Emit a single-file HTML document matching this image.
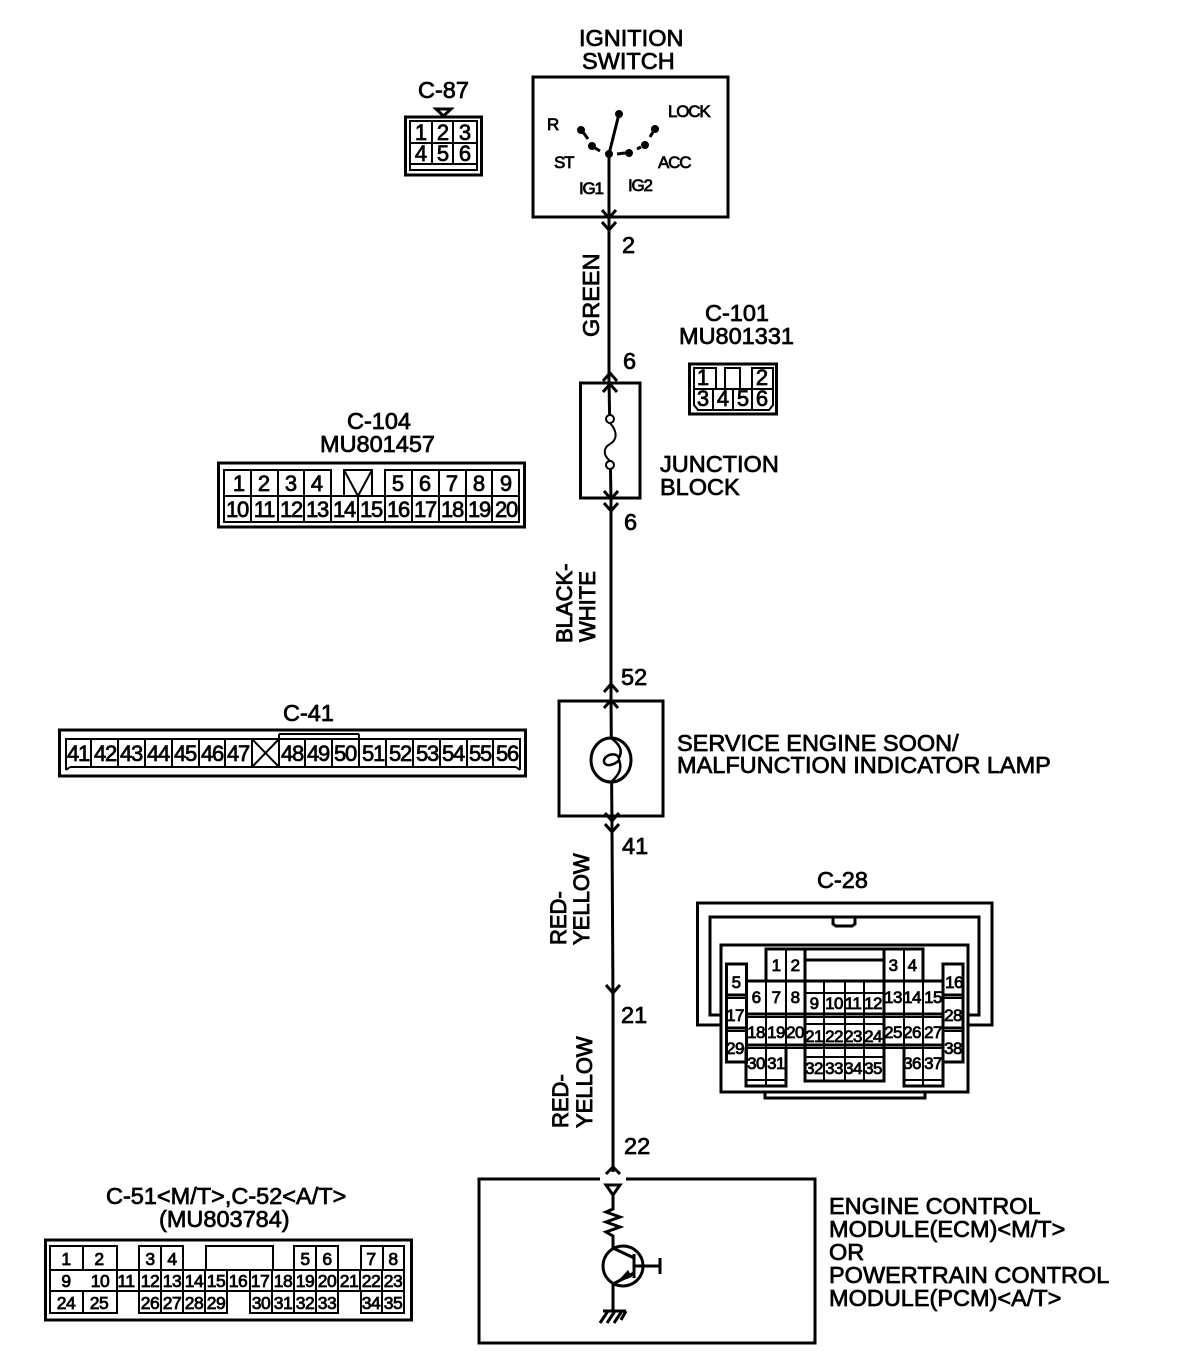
<!DOCTYPE html>
<html><head><meta charset="utf-8"><style>
html,body{margin:0;padding:0;background:#fff}
svg{display:block}
text{font-family:"Liberation Sans",sans-serif;fill:#000;stroke:#000;stroke-width:.75}
.l{font-size:23.5px}
.m{font-size:22px;text-anchor:middle}
.n{font-size:22px;text-anchor:middle;letter-spacing:-1.2px}
.s{font-size:17px;text-anchor:middle;stroke-width:.8;letter-spacing:-.6px}
.u{font-size:17.5px;text-anchor:middle;stroke-width:.8;letter-spacing:-.5px}
.k{font-size:17px;letter-spacing:-1.2px}
.w{font-size:23.5px}
.r{font-size:22px;stroke-width:.9}
g.b *{fill:none;stroke:#000;stroke-width:3}
g.t *{fill:none;stroke:#000;stroke-width:2}
g.f *{fill:#000;stroke:#000}
</style></head><body>
<svg width="1200" height="1370" viewBox="0 0 1200 1370" xmlns="http://www.w3.org/2000/svg">
<rect width="1200" height="1370" fill="#fff"/>

<!-- boxes -->
<g class="b">
<rect x="533" y="77" width="195" height="140"/>
<rect x="580.5" y="383" width="59.500" height="115"/>
<rect x="559" y="701" width="104" height="115"/>
<rect x="479" y="1179" width="336" height="164"/>
<polyline points="609,154 609,380 611,500 611,700 612,830 613,1000 613,1172"/>
<polyline points="602,210 609,218 616,210"/><polyline points="602,222 609,230 616,222"/>
<polyline points="603,381 610,373 617,381"/><polyline points="603,392 610,384 617,392"/>
<polyline points="604,491 611,499 618,491"/><polyline points="604,503 611,511 618,503"/>
<polyline points="604,692 611,684 618,692"/><polyline points="604,708 611,700 618,708"/>
<polyline points="605,813 612,821 619,813"/><polyline points="605,824 612,832 619,824"/>
<polyline points="606,985 613,993 620,985"/>
<polyline points="606,1174 613,1167 620,1174"/>
</g>
<rect x="600" y="1176" width="26" height="6" fill="#fff"/>

<!-- ignition contacts -->
<g class="f">
<circle cx="619" cy="114" r="3.500"/><circle cx="581" cy="130" r="3.500"/><circle cx="592" cy="146" r="3.500"/>
<circle cx="609" cy="154" r="3.500"/><circle cx="629" cy="153" r="3.500"/><circle cx="645" cy="145" r="3.500"/><circle cx="655" cy="129" r="3.500"/>
</g>
<g class="b">
<line x1="609" y1="154" x2="619" y2="114"/>
<line x1="583" y1="132" x2="588" y2="139" stroke-width="2"/>
<line x1="595" y1="148" x2="600" y2="151" stroke-width="2"/>
<line x1="617" y1="154" x2="625" y2="153" stroke-width="2"/>
<line x1="637" y1="149" x2="641" y2="147" stroke-width="2"/>
<line x1="650" y1="137" x2="653" y2="132" stroke-width="2"/>
</g>
<text class="k" x="547" y="130">R</text>
<text class="k" x="668" y="117">LOCK</text>
<text class="k" x="554" y="168">ST</text>
<text class="k" x="658" y="168">ACC</text>
<text class="k" x="579" y="194">IG1</text>
<text class="k" x="628" y="191">IG2</text>

<!-- fuse -->
<circle cx="610" cy="419" r="4" fill="#fff" stroke="#000" stroke-width="2"/>
<circle cx="610" cy="465" r="4" fill="#fff" stroke="#000" stroke-width="2"/>
<rect x="607" y="424" width="7" height="36" fill="#fff"/>
<path d="M610 423C618 432 617 440 610 444C603 448 603 455 610 461" fill="none" stroke="#000" stroke-width="2"/>

<!-- lamp -->
<ellipse cx="611" cy="760" rx="20" ry="22" fill="#fff" stroke="#000" stroke-width="3"/>
<path d="M611 738C622 746 622 752 619 758C616 751 603 755 604 762C606 768 616 764 619 760C622 768 620 774 611 782" fill="none" stroke="#000" stroke-width="2.500"/>

<!-- ECM internals -->
<g class="b">
<polygon points="606,1185 620,1185 613,1195"/>
<polyline points="613,1195 613,1209 606,1212 620,1217 606,1222 620,1227 606,1232 613,1236 613,1248"/>
<circle cx="623" cy="1266" r="20"/>
<polyline points="613,1248 634,1258"/>
<line x1="634" y1="1254" x2="634" y2="1278" stroke-width="4"/>
<line x1="634" y1="1266" x2="660" y2="1266"/>
<line x1="660" y1="1258" x2="660" y2="1274"/>
<line x1="634" y1="1273" x2="613" y2="1284"/>
<polyline points="613,1284 613,1311"/>
<line x1="603" y1="1311" x2="626" y2="1311"/>
<line x1="608" y1="1311" x2="600" y2="1323"/><line x1="615" y1="1311" x2="607" y2="1323"/><line x1="622" y1="1311" x2="614" y2="1323"/><line x1="626" y1="1311" x2="621" y2="1320"/>
</g>
<polygon points="616,1283 628,1270 632,1277" fill="#000"/>

<!-- main labels -->
<text class="l" x="579" y="46">IGNITION</text>
<text class="l" x="582" y="69">SWITCH</text>
<text class="w" x="418" y="98">C-87</text>
<text class="w" x="622" y="253">2</text>
<text class="w" x="623" y="369">6</text>
<text class="w" x="624" y="530">6</text>
<text class="w" x="621" y="685">52</text>
<text class="w" x="622" y="854">41</text>
<text class="w" x="621" y="1023">21</text>
<text class="w" x="624" y="1154">22</text>
<text class="w" transform="translate(599,337) rotate(-90)">GREEN</text>
<text class="r" transform="translate(572,643) rotate(-90)">BLACK-</text>
<text class="r" transform="translate(595,642) rotate(-90)">WHITE</text>
<text class="r" transform="translate(566,945) rotate(-90)">RED-</text>
<text class="r" transform="translate(589,945) rotate(-90)">YELLOW</text>
<text class="r" transform="translate(568,1128) rotate(-90)">RED-</text>
<text class="r" transform="translate(592,1128) rotate(-90)">YELLOW</text>
<text class="w" x="705" y="321">C-101</text>
<text class="w" x="679" y="344">MU801331</text>
<text class="w" x="347" y="429">C-104</text>
<text class="w" x="320" y="452">MU801457</text>
<text class="l" x="660" y="472">JUNCTION</text>
<text class="l" x="660" y="495">BLOCK</text>
<text class="w" x="283" y="721">C-41</text>
<text class="w" x="677" y="751">SERVICE ENGINE SOON/</text>
<text class="w" x="677" y="773">MALFUNCTION INDICATOR LAMP</text>
<text class="w" x="817" y="888">C-28</text>
<text class="w" x="106" y="1204">C-51&lt;M/T&gt;,C-52&lt;A/T&gt;</text>
<text class="w" x="159" y="1227">(MU803784)</text>
<text class="w" x="829" y="1214">ENGINE CONTROL</text>
<text class="w" x="829" y="1237">MODULE(ECM)&lt;M/T&gt;</text>
<text class="w" x="829" y="1260">OR</text>
<text class="w" x="829" y="1283">POWERTRAIN CONTROL</text>
<text class="w" x="829" y="1306">MODULE(PCM)&lt;A/T&gt;</text>

<!-- C-87 -->
<g class="b"><rect x="405.500" y="117" width="76" height="58"/><polygon points="436,109 451,109 443.500,116" stroke-width="2"/></g>
<g class="t">
<rect x="410" y="121" width="67" height="49"/>
<line x1="410" y1="143" x2="477" y2="143"/><line x1="410" y1="164" x2="477" y2="164"/>
<line x1="432" y1="121" x2="432" y2="164"/><line x1="453" y1="121" x2="453" y2="164"/>
</g>
<text class="m" x="421" y="140">1</text><text class="m" x="443" y="140">2</text><text class="m" x="465" y="140">3</text>
<text class="m" x="421" y="161">4</text><text class="m" x="443" y="161">5</text><text class="m" x="465" y="161">6</text>

<!-- C-101 -->
<g class="b"><rect x="689.500" y="364" width="87" height="50"/></g>
<g class="t">
<polyline points="694,389 694,368 716,368 716,389"/>
<polyline points="725,389 725,368 740,368 740,389"/>
<polyline points="752,389 752,368 773,368 773,389"/>
<polyline points="694,389 773,389 773,405 769,410 698,410 694,405 694,389"/>
<line x1="713" y1="389" x2="713" y2="410"/><line x1="733" y1="389" x2="733" y2="410"/><line x1="752" y1="389" x2="752" y2="410"/>
</g>
<text class="m" x="703" y="385">1</text><text class="m" x="762" y="385">2</text>
<text class="m" x="703" y="406">3</text><text class="m" x="723" y="406">4</text><text class="m" x="743" y="406">5</text><text class="m" x="762" y="406">6</text>

<!-- C-104 -->
<g class="b"><rect x="218.500" y="463" width="306" height="64"/></g>
<g class="t">
<polyline points="224,496 224,470 331,470 331,496"/>
<polyline points="344,496 344,470 372,470 372,496"/>
<polyline points="385,496 385,470 519,470 519,496"/>
<rect x="224" y="496" width="295" height="26"/>
<line x1="251" y1="470" x2="251" y2="522"/><line x1="278" y1="470" x2="278" y2="522"/><line x1="304" y1="470" x2="304" y2="522"/>
<line x1="331" y1="496" x2="331" y2="522"/><line x1="358" y1="496" x2="358" y2="522"/><line x1="385" y1="496" x2="385" y2="522"/>
<line x1="412" y1="470" x2="412" y2="522"/><line x1="439" y1="470" x2="439" y2="522"/><line x1="466" y1="470" x2="466" y2="522"/><line x1="492" y1="470" x2="492" y2="522"/>
<polyline points="344,470 358,496 372,470"/>
</g>
<text class="m" x="239" y="491">1</text><text class="m" x="264" y="491">2</text><text class="m" x="291" y="491">3</text><text class="m" x="317" y="491">4</text>
<text class="m" x="398" y="491">5</text><text class="m" x="425" y="491">6</text><text class="m" x="452" y="491">7</text><text class="m" x="479" y="491">8</text><text class="m" x="506" y="491">9</text>
<text class="n" x="237" y="517">10</text><text class="n" x="264" y="517">11</text><text class="n" x="291" y="517">12</text><text class="n" x="317" y="517">13</text><text class="n" x="344" y="517">14</text><text class="n" x="371" y="517">15</text><text class="n" x="398" y="517">16</text><text class="n" x="425" y="517">17</text><text class="n" x="452" y="517">18</text><text class="n" x="479" y="517">19</text><text class="n" x="506" y="517">20</text>

<!-- C-41 -->
<g class="b"><rect x="59.500" y="730" width="466" height="46"/></g>
<g class="t">
<polyline points="66,770 66,739 520,739 520,770"/>
<line x1="70" y1="767" x2="516" y2="767" stroke-width="2.500"/>
<line x1="66" y1="770" x2="70" y2="767"/><line x1="520" y1="770" x2="516" y2="767"/>
<line x1="91" y1="739" x2="91" y2="767"/><line x1="118" y1="739" x2="118" y2="767"/><line x1="145" y1="739" x2="145" y2="767"/><line x1="172" y1="739" x2="172" y2="767"/><line x1="199" y1="739" x2="199" y2="767"/><line x1="225" y1="739" x2="225" y2="767"/><line x1="252" y1="739" x2="252" y2="767"/>
<line x1="279" y1="734" x2="279" y2="767"/><line x1="305" y1="739" x2="305" y2="767"/><line x1="332" y1="739" x2="332" y2="767"/><line x1="359" y1="734" x2="359" y2="767"/><line x1="386" y1="739" x2="386" y2="767"/><line x1="413" y1="739" x2="413" y2="767"/><line x1="440" y1="739" x2="440" y2="767"/><line x1="467" y1="739" x2="467" y2="767"/><line x1="493" y1="739" x2="493" y2="767"/>
<line x1="279" y1="734" x2="359" y2="734"/>
<line x1="252" y1="739" x2="279" y2="767" stroke-width="1"/><line x1="279" y1="739" x2="252" y2="767" stroke-width="1"/>
</g>
<text class="n" x="78" y="761">41</text><text class="n" x="105" y="761">42</text><text class="n" x="131" y="761">43</text><text class="n" x="158" y="761">44</text><text class="n" x="185" y="761">45</text><text class="n" x="212" y="761">46</text><text class="n" x="238" y="761">47</text>
<text class="n" x="292" y="761">48</text><text class="n" x="318" y="761">49</text><text class="n" x="345" y="761">50</text><text class="n" x="373" y="761">51</text><text class="n" x="400" y="761">52</text><text class="n" x="427" y="761">53</text><text class="n" x="453" y="761">54</text><text class="n" x="480" y="761">55</text><text class="n" x="507" y="761">56</text>

<!-- C-28 -->
<g class="b">
<polyline points="721,1025 697.500,1025 697.500,903 992,903 992,1025 968,1025"/>
<polyline points="721,1015 710,1015 710,917 979,917 979,1015 968,1015"/>
<polyline points="833,917 833,924 836,926 852,926 855,924 855,917"/>
<rect x="721" y="945" width="247" height="147"/>
<polyline points="765,1092 765,1098 925,1098 925,1092"/>
<rect x="726.500" y="964" width="20" height="98"/>
<rect x="943" y="964" width="20" height="98"/>
<polyline points="746,1047 746,1086 786,1086 786,1047"/>
<polyline points="904,1047 904,1086 943,1086 943,1047"/>
<polyline points="766,981 766,949 884,949 884,1081 805,1081 805,949"/>
<polyline points="884,949 923,949 923,981"/>
<line x1="805" y1="960" x2="884" y2="960"/>
<line x1="746" y1="981" x2="943" y2="981"/>
<line x1="746" y1="1014" x2="943" y2="1014"/>
<line x1="746" y1="1045" x2="943" y2="1045"/>
<line x1="726" y1="995" x2="746" y2="995"/><line x1="726" y1="1028" x2="746" y2="1028"/>
<line x1="943" y1="995" x2="963" y2="995"/><line x1="943" y1="1028" x2="963" y2="1028"/>
</g>
<g class="t">
<line x1="786" y1="949" x2="786" y2="1086"/><line x1="766" y1="981" x2="766" y2="1086"/>
<line x1="904" y1="949" x2="904" y2="1086"/><line x1="884" y1="949" x2="884" y2="1081"/><line x1="923" y1="949" x2="923" y2="1086"/>
<line x1="824" y1="981" x2="824" y2="1081"/><line x1="845" y1="981" x2="845" y2="1081"/><line x1="864" y1="981" x2="864" y2="1081"/>
<line x1="805" y1="993" x2="884" y2="993"/><line x1="805" y1="1024" x2="884" y2="1024"/><line x1="805" y1="1057" x2="884" y2="1057"/>
<line x1="746" y1="1080" x2="786" y2="1080"/><line x1="904" y1="1080" x2="943" y2="1080"/>
<line x1="726" y1="998" x2="746" y2="998"/><line x1="726" y1="1031" x2="746" y2="1031"/><line x1="943" y1="998" x2="963" y2="998"/><line x1="943" y1="1031" x2="963" y2="1031"/>
<line x1="746" y1="1017" x2="943" y2="1017"/><line x1="746" y1="1048" x2="943" y2="1048"/>
</g>
<text class="s" x="776" y="971">1</text><text class="s" x="795" y="971">2</text><text class="s" x="893" y="971">3</text><text class="s" x="912" y="971">4</text>
<text class="s" x="736" y="988">5</text><text class="s" x="954" y="988">16</text>
<text class="s" x="756" y="1003">6</text><text class="s" x="776" y="1003">7</text><text class="s" x="795" y="1003">8</text>
<text class="s" x="814" y="1009">9</text><text class="s" x="834" y="1009">10</text><text class="s" x="853" y="1009">11</text><text class="s" x="873" y="1009">12</text>
<text class="s" x="893" y="1003">13</text><text class="s" x="912" y="1003">14</text><text class="s" x="933" y="1003">15</text>
<text class="s" x="735" y="1021">17</text><text class="s" x="953" y="1021">28</text>
<text class="s" x="756" y="1038">18</text><text class="s" x="776" y="1038">19</text><text class="s" x="795" y="1038">20</text>
<text class="s" x="814" y="1042">21</text><text class="s" x="834" y="1042">22</text><text class="s" x="853" y="1042">23</text><text class="s" x="873" y="1042">24</text>
<text class="s" x="893" y="1038">25</text><text class="s" x="912" y="1038">26</text><text class="s" x="933" y="1038">27</text>
<text class="s" x="735" y="1054">29</text><text class="s" x="953" y="1054">38</text>
<text class="s" x="756" y="1069">30</text><text class="s" x="776" y="1069">31</text>
<text class="s" x="814" y="1074">32</text><text class="s" x="834" y="1074">33</text><text class="s" x="853" y="1074">34</text><text class="s" x="873" y="1074">35</text>
<text class="s" x="912" y="1069">36</text><text class="s" x="933" y="1069">37</text>

<!-- C-51/52 -->
<g class="b"><rect x="45.500" y="1240" width="366" height="80"/></g>
<g class="t">
<rect x="50" y="1246" width="33" height="24"/><rect x="83" y="1246" width="34" height="24"/>
<rect x="139" y="1246" width="22" height="24"/><rect x="161" y="1246" width="22" height="24"/>
<rect x="206" y="1246" width="67" height="24"/>
<rect x="294" y="1246" width="22" height="24"/><rect x="316" y="1246" width="22" height="24"/>
<rect x="361" y="1246" width="22" height="24"/><rect x="383" y="1246" width="21" height="24"/>
<rect x="50" y="1270" width="354" height="43"/>
<line x1="50" y1="1291" x2="404" y2="1291" stroke-width="2.500"/>
<line x1="117" y1="1270" x2="117" y2="1291"/><line x1="139" y1="1270" x2="139" y2="1291"/><line x1="161" y1="1270" x2="161" y2="1291"/><line x1="183" y1="1270" x2="183" y2="1291"/><line x1="205" y1="1270" x2="205" y2="1291"/><line x1="227" y1="1270" x2="227" y2="1291"/><line x1="250" y1="1270" x2="250" y2="1291"/><line x1="272" y1="1270" x2="272" y2="1291"/><line x1="294" y1="1270" x2="294" y2="1291"/><line x1="316" y1="1270" x2="316" y2="1291"/><line x1="338" y1="1270" x2="338" y2="1291"/><line x1="360" y1="1270" x2="360" y2="1291"/><line x1="382" y1="1270" x2="382" y2="1291"/>
<line x1="83" y1="1291" x2="83" y2="1313"/><line x1="117" y1="1291" x2="117" y2="1313"/>
<line x1="139" y1="1291" x2="139" y2="1313"/><line x1="161" y1="1291" x2="161" y2="1313"/><line x1="183" y1="1291" x2="183" y2="1313"/><line x1="205" y1="1291" x2="205" y2="1313"/><line x1="227" y1="1291" x2="227" y2="1313"/>
<line x1="250" y1="1291" x2="250" y2="1313"/><line x1="272" y1="1291" x2="272" y2="1313"/><line x1="294" y1="1291" x2="294" y2="1313"/><line x1="316" y1="1291" x2="316" y2="1313"/><line x1="338" y1="1291" x2="338" y2="1313"/><line x1="361" y1="1291" x2="361" y2="1313"/><line x1="382" y1="1291" x2="382" y2="1313"/>
</g>
<rect x="118" y="1311" width="20" height="4" fill="#fff"/><rect x="228" y="1311" width="21" height="4" fill="#fff"/><rect x="339" y="1311" width="21" height="4" fill="#fff"/>
<text class="u" x="66" y="1265">1</text><text class="u" x="99" y="1265">2</text><text class="u" x="150" y="1265">3</text><text class="u" x="172" y="1265">4</text><text class="u" x="305" y="1265">5</text><text class="u" x="327" y="1265">6</text><text class="u" x="371" y="1265">7</text><text class="u" x="393" y="1265">8</text>
<text class="u" x="66" y="1287">9</text><text class="u" x="100" y="1287">10</text><text class="u" x="126" y="1287">11</text><text class="u" x="150" y="1287">12</text><text class="u" x="172" y="1287">13</text><text class="u" x="194" y="1287">14</text><text class="u" x="216" y="1287">15</text><text class="u" x="238" y="1287">16</text><text class="u" x="260" y="1287">17</text><text class="u" x="283" y="1287">18</text><text class="u" x="305" y="1287">19</text><text class="u" x="327" y="1287">20</text><text class="u" x="349" y="1287">21</text><text class="u" x="371" y="1287">22</text><text class="u" x="393" y="1287">23</text>
<text class="u" x="66" y="1309">24</text><text class="u" x="99" y="1309">25</text><text class="u" x="150" y="1309">26</text><text class="u" x="172" y="1309">27</text><text class="u" x="194" y="1309">28</text><text class="u" x="216" y="1309">29</text><text class="u" x="261" y="1309">30</text><text class="u" x="283" y="1309">31</text><text class="u" x="305" y="1309">32</text><text class="u" x="327" y="1309">33</text><text class="u" x="371" y="1309">34</text><text class="u" x="393" y="1309">35</text>
</svg>
</body></html>
